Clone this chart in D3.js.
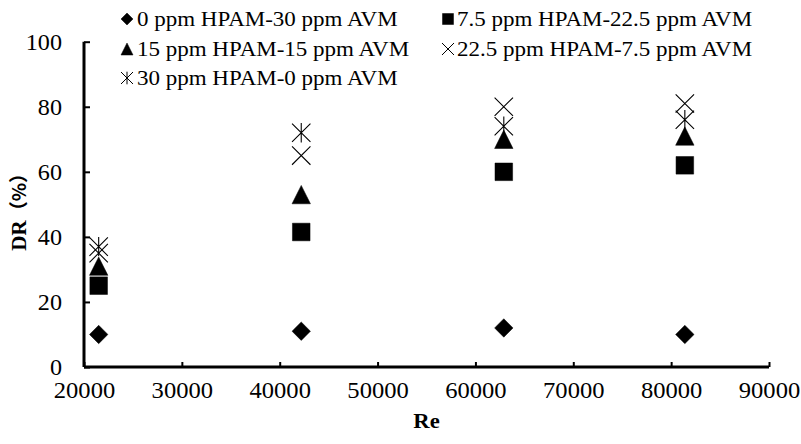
<!DOCTYPE html>
<html><head><meta charset="utf-8">
<script src="https://cdn.jsdelivr.net/npm/d3@7"></script>
<style>
html,body{margin:0;padding:0;background:#fff;}
svg{display:block;}
</style></head>
<body>
<svg id="chart" width="801" height="444"></svg>
<script>
// ---- data ----
const reValues = [21500, 42200, 62900, 81400];
const seriesNames = [
  "0 ppm HPAM-30 ppm AVM",
  "7.5 ppm HPAM-22.5 ppm AVM",
  "15 ppm HPAM-15 ppm AVM",
  "22.5 ppm HPAM-7.5 ppm AVM",
  "30 ppm HPAM-0 ppm AVM"
];
const dr0 = [10, 11, 12, 10];
const dr75 = [25, 41.5, 60, 62];
const dr15 = [31, 53, 70, 71];
const dr225 = [35, 65, 80, 81];
const dr30 = [37, 72, 74, 76];
const xTicks = [20000, 30000, 40000, 50000, 60000, 70000, 80000, 90000];
const yTicks = [0, 20, 40, 60, 80, 100];

const seriesValues = [dr0, dr75, dr15, dr225, dr30];
const markerKinds = ["diamond", "square", "triangle", "times", "asterisk"];

const SERIF = "'Liberation Serif'";

// ---- custom marker shapes (size = half width in px) ----
const shapes = {
  diamond: { draw(c, r) { c.moveTo(0, -r); c.lineTo(r, 0); c.lineTo(0, r); c.lineTo(-r, 0); c.closePath(); } },
  square: { draw(c, r) { c.rect(-r, -r, 2 * r, 2 * r); } },
  triangle: { draw(c, r) { c.moveTo(0, -r); c.lineTo(r, r); c.lineTo(-r, r); c.closePath(); } },
  times: { draw(c, r) { c.moveTo(-r, -r); c.lineTo(r, r); c.moveTo(-r, r); c.lineTo(r, -r); } },
  asterisk: { draw(c, r) { c.moveTo(-r, -r); c.lineTo(r, r); c.moveTo(-r, r); c.lineTo(r, -r); c.moveTo(0, -r * 1.05); c.lineTo(0, r * 1.05); } }
};
const filled = { diamond: true, square: true, triangle: true, times: false, asterisk: false };

const svg = d3.select("#chart");
const pLeft = 84, pRight = 769, pTop = 41.7, pBottom = 367;

const x = d3.scaleLinear().domain([20000, 90000]).range([pLeft, pRight]);
const y = d3.scaleLinear().domain([0, 100]).range([pBottom, pTop]);

// ---- axes ----
const xAxis = d3.axisBottom(x).tickValues(xTicks).tickSize(-5).tickPadding(0).tickFormat(d3.format("d"));
const gx = svg.append("g").attr("transform", `translate(0,${pBottom})`).call(xAxis);
gx.attr("font-family", null).attr("font-size", null);
gx.select(".domain").attr("stroke", "#000").attr("stroke-width", 3).attr("d", `M${pLeft},0H${pRight}`);
gx.selectAll(".tick line").attr("stroke", "#000").attr("stroke-width", 2);
gx.selectAll(".tick text").attr("x", 0).attr("y", 0).attr("dy", 0)
  .attr("transform", "translate(0,31) scale(1.07,1)")
  .style("font-family", SERIF).style("font-size", "23px").style("fill", "#000");

const yAxis = d3.axisLeft(y).tickValues(yTicks).tickSize(-6).tickPadding(0);
const gy = svg.append("g").attr("transform", `translate(${pLeft},0)`).call(yAxis);
gy.attr("font-family", null).attr("font-size", null);
gy.select(".domain").attr("stroke", "#000").attr("stroke-width", 3).attr("d", `M0,${pTop}V${pBottom}`);
gy.selectAll(".tick line").attr("stroke", "#000").attr("stroke-width", 2);
gy.selectAll(".tick text").attr("x", 0).attr("dy", "0.34em")
  .attr("transform", "translate(-22,0) scale(1.05,1)")
  .style("font-family", SERIF).style("font-size", "23px").style("fill", "#000");

// ---- axis titles ----
svg.append("text").attr("transform", `translate(${(pLeft + pRight) / 2},428) scale(1.08,1)`)
  .attr("text-anchor", "middle")
  .style("font-family", SERIF).style("font-size", "21px").style("font-weight", "bold").text("Re");
const yTitle = svg.append("text").attr("transform", `translate(26,${(pTop + pBottom) / 2 + 3}) rotate(-90)`)
  .attr("text-anchor", "middle")
  .style("font-family", SERIF).style("font-size", "21px").style("font-weight", "bold");
yTitle.append("tspan").text("DR");
yTitle.append("tspan").style("font-family", "'Noto Sans CJK SC'").style("font-size", "19px").text("（%）");

// ---- points ----
const sym = d3.symbol();
seriesValues.forEach((vals, i) => {
  const kind = markerKinds[i];
  const g = svg.append("g");
  g.selectAll("path").data(vals.map((v, j) => ({ re: reValues[j], v })))
    .join("path")
    .attr("transform", d => `translate(${x(d.re)},${y(d.v)})`)
    .attr("d", sym.type(shapes[kind]).size(kind === "square" ? 8.8 : 9.2)())
    .attr("fill", filled[kind] ? "#000" : "none")
    .attr("stroke", "#000")
    .attr("stroke-width", filled[kind] ? 0.5 : 1.1);
});

// ---- legend ----
const legendPos = [
  { mx: 127, tx: 137, cy: 19 },
  { mx: 448, tx: 457, cy: 19 },
  { mx: 127, tx: 137, cy: 49 },
  { mx: 448, tx: 457, cy: 49 },
  { mx: 127, tx: 137, cy: 78 }
];
const leg = svg.append("g");
seriesNames.forEach((name, i) => {
  const p = legendPos[i];
  const kind = markerKinds[i];
  const r = kind === "square" ? 5.5 : 6;
  leg.append("path")
    .attr("transform", `translate(${p.mx},${p.cy})`)
    .attr("d", sym.type(shapes[kind]).size(r)())
    .attr("fill", filled[kind] ? "#000" : "none")
    .attr("stroke", "#000").attr("stroke-width", filled[kind] ? 0.5 : 1);
  leg.append("text").attr("transform", `translate(${p.tx},${p.cy}) scale(1.15,1)`)
    .attr("dy", "0.33em")
    .style("font-family", SERIF).style("font-size", "20px").style("fill", "#000").text(name);
});
</script>
</body></html>
